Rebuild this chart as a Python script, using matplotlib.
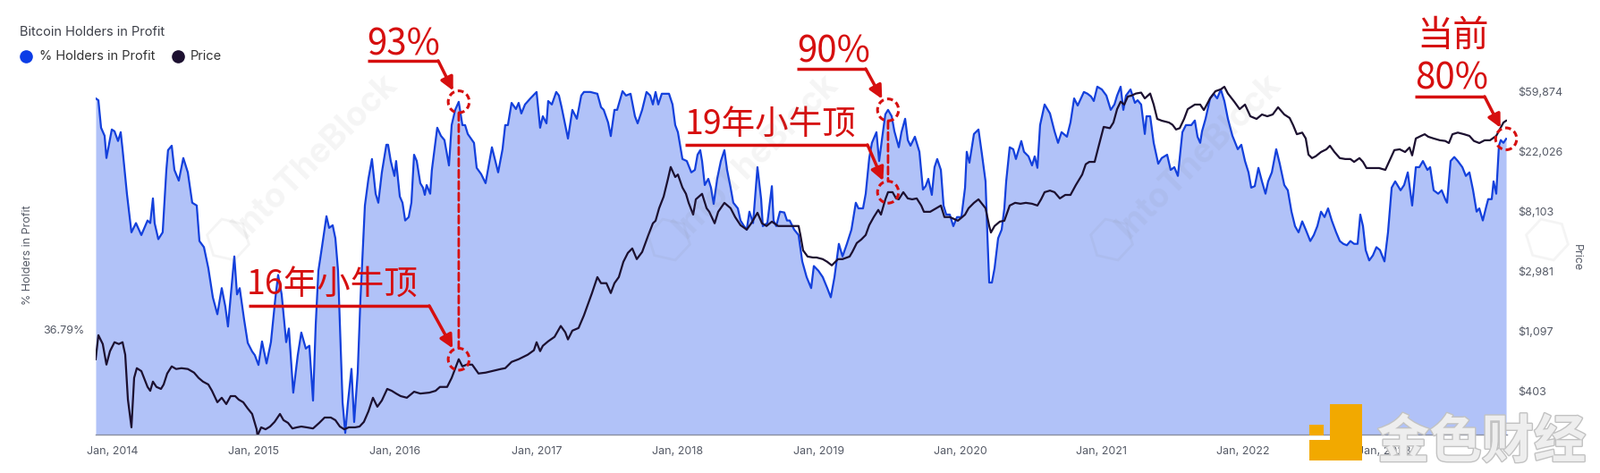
import numpy as np
import matplotlib
matplotlib.use("Agg")
import matplotlib.pyplot as plt
import matplotlib.transforms as mtransforms
import matplotlib.patheffects as pe
from matplotlib.patches import Ellipse, ConnectionPatch, Rectangle, RegularPolygon
from matplotlib.lines import Line2D
from matplotlib.ticker import NullLocator

plt.rcParams['font.family'] = ['Inter', 'DejaVu Sans']

# ---- data: % of holders in profit (decimal year, percent) ----
holders_t = [
    2013.880, 2013.899, 2013.918, 2013.943, 2013.956, 2013.994, 2014.013, 2014.038, 2014.057, 2014.070,
    2014.101, 2014.133, 2014.165, 2014.203, 2014.247, 2014.266, 2014.285, 2014.297, 2014.323, 2014.354,
    2014.380, 2014.392, 2014.418, 2014.437, 2014.468, 2014.500, 2014.532, 2014.563, 2014.595, 2014.614,
    2014.646, 2014.677, 2014.709, 2014.741, 2014.772, 2014.797, 2014.816, 2014.835, 2014.861, 2014.880,
    2014.899, 2014.930, 2014.956, 2014.987, 2015.006, 2015.032, 2015.057, 2015.089, 2015.120, 2015.152,
    2015.171, 2015.196, 2015.228, 2015.247, 2015.278, 2015.310, 2015.335, 2015.367, 2015.392, 2015.418,
    2015.437, 2015.456, 2015.481, 2015.513, 2015.532, 2015.557, 2015.576, 2015.595, 2015.627, 2015.646,
    2015.665, 2015.690, 2015.709, 2015.734, 2015.753, 2015.785, 2015.810, 2015.835, 2015.861, 2015.880,
    2015.905, 2015.937, 2015.949, 2015.968, 2015.994, 2016.006, 2016.032, 2016.051, 2016.070, 2016.095,
    2016.114, 2016.133, 2016.152, 2016.177, 2016.196, 2016.209, 2016.222, 2016.247, 2016.259, 2016.297,
    2016.323, 2016.348, 2016.380, 2016.399, 2016.424, 2016.449, 2016.475, 2016.494, 2016.513, 2016.557,
    2016.576, 2016.608, 2016.639, 2016.684, 2016.728, 2016.759, 2016.778, 2016.797, 2016.823, 2016.854,
    2016.873, 2016.892, 2016.918, 2016.956, 2017.000, 2017.025, 2017.044, 2017.070, 2017.082, 2017.108,
    2017.139, 2017.158, 2017.177, 2017.222, 2017.253, 2017.285, 2017.316, 2017.335, 2017.380, 2017.430,
    2017.456, 2017.475, 2017.506, 2017.525, 2017.551, 2017.570, 2017.608, 2017.633, 2017.665, 2017.696,
    2017.715, 2017.747, 2017.778, 2017.804, 2017.823, 2017.842, 2017.861, 2017.886, 2017.937, 2017.962,
    2017.981, 2018.000, 2018.032, 2018.063, 2018.095, 2018.120, 2018.139, 2018.158, 2018.171, 2018.190,
    2018.215, 2018.234, 2018.253, 2018.278, 2018.304, 2018.329, 2018.348, 2018.373, 2018.392, 2018.424,
    2018.443, 2018.468, 2018.487, 2018.506, 2018.532, 2018.563, 2018.589, 2018.601, 2018.633, 2018.665,
    2018.677, 2018.696, 2018.722, 2018.753, 2018.772, 2018.791, 2018.823, 2018.854, 2018.880, 2018.911,
    2018.943, 2018.962, 2018.994, 2019.025, 2019.057, 2019.082, 2019.108, 2019.139, 2019.165, 2019.196,
    2019.228, 2019.259, 2019.278, 2019.310, 2019.329, 2019.354, 2019.373, 2019.405, 2019.424, 2019.449,
    2019.468, 2019.487, 2019.513, 2019.532, 2019.563, 2019.582, 2019.608, 2019.627, 2019.646, 2019.677,
    2019.709, 2019.734, 2019.753, 2019.772, 2019.797, 2019.816, 2019.835, 2019.861, 2019.880, 2019.899,
    2019.924, 2019.949, 2019.975, 2020.006, 2020.032, 2020.044, 2020.063, 2020.095, 2020.127, 2020.152,
    2020.177, 2020.190, 2020.203, 2020.222, 2020.241, 2020.266, 2020.291, 2020.310, 2020.323, 2020.348,
    2020.373, 2020.392, 2020.430, 2020.449, 2020.481, 2020.506, 2020.525, 2020.544, 2020.563, 2020.595,
    2020.633, 2020.665, 2020.690, 2020.715, 2020.753, 2020.778, 2020.804, 2020.829, 2020.873, 2020.899,
    2020.924, 2020.943, 2020.968, 2021.000, 2021.032, 2021.063, 2021.089, 2021.108, 2021.133, 2021.152,
    2021.171, 2021.203, 2021.234, 2021.253, 2021.278, 2021.304, 2021.316, 2021.342, 2021.367, 2021.399,
    2021.424, 2021.462, 2021.487, 2021.513, 2021.538, 2021.570, 2021.595, 2021.633, 2021.658, 2021.677,
    2021.696, 2021.709, 2021.734, 2021.766, 2021.791, 2021.816, 2021.842, 2021.867, 2021.892, 2021.924,
    2021.962, 2021.987, 2022.013, 2022.038, 2022.057, 2022.082, 2022.108, 2022.133, 2022.158, 2022.177,
    2022.203, 2022.234, 2022.259, 2022.291, 2022.316, 2022.342, 2022.367, 2022.392, 2022.418, 2022.443,
    2022.475, 2022.500, 2022.525, 2022.551, 2022.576, 2022.601, 2022.627, 2022.658, 2022.684, 2022.709,
    2022.734, 2022.759, 2022.785, 2022.810, 2022.829, 2022.848, 2022.867, 2022.892, 2022.918, 2022.943,
    2022.968, 2023.000, 2023.025, 2023.051, 2023.076, 2023.114, 2023.139, 2023.165, 2023.196, 2023.222,
    2023.247, 2023.272, 2023.304, 2023.323, 2023.348, 2023.380, 2023.405, 2023.430, 2023.443, 2023.468,
    2023.494, 2023.519, 2023.551, 2023.576, 2023.601, 2023.627, 2023.652, 2023.671, 2023.696, 2023.722,
    2023.734, 2023.759, 2023.772, 2023.791, 2023.810, 2023.823, 2023.842, 2023.861,
]
holders_pct = [
    94.3, 93.6, 83.7, 81.0, 74.0, 83.1, 82.5, 79.3, 82.2, 76.7,
    64.0, 54.7, 56.8, 54.1, 57.4, 56.8, 62.8, 56.8, 53.2, 54.7,
    70.5, 76.4, 77.8, 70.5, 67.5, 74.0, 69.8, 61.7, 61.0, 52.8,
    51.5, 47.3, 42.0, 39.2, 43.6, 40.5, 37.3, 42.0, 49.6, 42.5,
    43.6, 38.4, 34.9, 33.7, 33.2, 31.9, 35.1, 32.1, 35.0, 42.0,
    46.0, 42.5, 35.0, 37.0, 28.5, 33.2, 36.4, 34.1, 34.5, 27.6,
    37.6, 46.8, 51.5, 58.4, 55.7, 56.3, 53.4, 46.8, 27.4, 24.2,
    27.4, 31.4, 25.3, 30.9, 41.4, 61.0, 68.0, 73.7, 64.0, 61.7,
    69.8, 78.1, 78.1, 73.1, 68.8, 73.1, 63.3, 61.7, 57.4, 58.2,
    61.7, 75.0, 73.1, 66.8, 65.6, 63.7, 66.3, 64.0, 70.5, 83.7,
    81.0, 79.6, 71.8, 84.6, 90.0, 93.0, 84.6, 84.6, 81.6, 78.7,
    71.1, 69.3, 66.8, 77.3, 69.8, 76.7, 84.6, 84.6, 92.6, 90.3,
    92.6, 88.7, 92.0, 94.3, 96.8, 83.7, 87.7, 85.2, 93.3, 92.0,
    96.8, 95.4, 91.0, 80.1, 90.0, 86.8, 95.4, 96.8, 96.8, 96.1,
    91.0, 90.0, 85.5, 80.9, 90.0, 90.0, 97.1, 95.4, 96.1, 87.7,
    85.2, 90.0, 96.8, 95.4, 92.0, 96.8, 92.0, 96.1, 96.1, 92.0,
    84.6, 82.2, 73.7, 73.1, 69.8, 70.5, 75.0, 76.4, 73.1, 66.3,
    68.0, 65.6, 61.4, 68.0, 73.1, 76.4, 70.5, 65.6, 61.7, 60.3,
    57.4, 56.1, 55.3, 59.5, 56.8, 71.3, 62.6, 56.1, 56.8, 66.0,
    57.4, 56.1, 59.5, 59.3, 57.4, 57.4, 55.3, 54.1, 48.6, 45.6,
    43.6, 47.7, 46.8, 45.6, 43.6, 42.0, 45.6, 52.2, 49.6, 52.2,
    55.3, 61.7, 60.3, 60.3, 64.0, 74.0, 78.7, 82.2, 73.1, 81.6,
    88.4, 90.0, 87.7, 82.5, 77.3, 82.2, 86.8, 79.6, 77.8, 80.7,
    75.9, 65.1, 66.0, 68.0, 63.7, 71.3, 73.7, 70.5, 61.0, 58.8,
    58.8, 56.1, 58.2, 58.2, 65.6, 75.9, 72.6, 81.6, 83.1, 75.0,
    67.3, 54.1, 44.6, 44.6, 47.3, 53.4, 55.3, 60.3, 67.3, 77.3,
    76.7, 73.7, 79.3, 75.9, 74.5, 71.8, 74.5, 71.1, 84.6, 92.0,
    88.7, 82.5, 78.7, 82.2, 80.7, 85.5, 94.3, 91.6, 96.8, 96.1,
    95.0, 93.3, 98.9, 97.8, 95.4, 90.0, 92.0, 95.4, 98.9, 90.0,
    95.4, 97.8, 92.6, 93.6, 92.0, 81.6, 87.7, 87.7, 78.7, 72.3,
    74.0, 75.0, 70.5, 71.3, 68.8, 82.2, 84.6, 84.6, 86.2, 80.7,
    78.7, 82.5, 86.8, 94.3, 96.1, 94.3, 97.8, 93.3, 86.8, 81.0,
    76.7, 78.1, 73.1, 69.8, 65.6, 66.0, 71.1, 67.3, 64.0, 67.3,
    69.8, 76.7, 72.3, 66.3, 64.9, 59.5, 56.1, 54.7, 57.2, 55.3,
    52.8, 54.1, 56.1, 59.5, 58.2, 60.3, 57.4, 54.7, 52.8, 52.2,
    51.9, 52.8, 52.2, 52.2, 58.8, 56.1, 50.9, 48.8, 49.8, 51.5,
    50.9, 48.6, 54.7, 65.6, 67.3, 64.9, 66.3, 69.8, 61.0, 71.3,
    71.3, 73.1, 70.5, 71.3, 64.9, 64.0, 64.9, 62.6, 61.7, 73.1,
    74.3, 73.1, 71.3, 68.8, 69.8, 64.9, 59.5, 60.3, 57.4, 61.0,
    62.6, 62.6, 67.3, 64.0, 77.8, 79.6, 78.7, 80.0,
]

# ---- data: BTC price (decimal year, USD) ----
price_t = [
    2013.880, 2013.899, 2013.930, 2013.956, 2013.981, 2014.013, 2014.044, 2014.070, 2014.089, 2014.108,
    2014.133, 2014.152, 2014.171, 2014.203, 2014.247, 2014.266, 2014.285, 2014.310, 2014.342, 2014.361,
    2014.386, 2014.418, 2014.449, 2014.487, 2014.532, 2014.576, 2014.608, 2014.639, 2014.677, 2014.703,
    2014.741, 2014.772, 2014.804, 2014.835, 2014.867, 2014.892, 2014.924, 2014.956, 2014.987, 2015.019,
    2015.025, 2015.051, 2015.082, 2015.114, 2015.146, 2015.184, 2015.209, 2015.241, 2015.272, 2015.304,
    2015.335, 2015.373, 2015.418, 2015.462, 2015.500, 2015.544, 2015.576, 2015.608, 2015.639, 2015.671,
    2015.715, 2015.747, 2015.778, 2015.810, 2015.842, 2015.873, 2015.905, 2015.943, 2015.975, 2016.006,
    2016.038, 2016.082, 2016.133, 2016.177, 2016.241, 2016.285, 2016.316, 2016.367, 2016.399, 2016.430,
    2016.449, 2016.475, 2016.506, 2016.544, 2016.589, 2016.639, 2016.684, 2016.747, 2016.778, 2016.823,
    2016.873, 2016.937, 2016.981, 2017.000, 2017.025, 2017.044, 2017.082, 2017.127, 2017.171, 2017.203,
    2017.222, 2017.253, 2017.297, 2017.335, 2017.392, 2017.430, 2017.456, 2017.494, 2017.525, 2017.551,
    2017.582, 2017.614, 2017.646, 2017.677, 2017.709, 2017.747, 2017.791, 2017.823, 2017.842, 2017.867,
    2017.899, 2017.930, 2017.949, 2017.981, 2018.000, 2018.032, 2018.057, 2018.076, 2018.108, 2018.127,
    2018.171, 2018.203, 2018.222, 2018.260, 2018.285, 2018.329, 2018.373, 2018.405, 2018.443, 2018.487,
    2018.519, 2018.563, 2018.595, 2018.627, 2018.665, 2018.709, 2018.772, 2018.816, 2018.854, 2018.867,
    2018.886, 2018.918, 2018.956, 2018.981, 2019.025, 2019.057, 2019.089, 2019.133, 2019.165, 2019.215,
    2019.234, 2019.266, 2019.297, 2019.329, 2019.354, 2019.386, 2019.418, 2019.437, 2019.468, 2019.487,
    2019.519, 2019.544, 2019.563, 2019.595, 2019.627, 2019.658, 2019.690, 2019.722, 2019.741, 2019.785,
    2019.829, 2019.861, 2019.886, 2019.924, 2019.981, 2020.032, 2020.057, 2020.095, 2020.127, 2020.152,
    2020.177, 2020.203, 2020.215, 2020.241, 2020.278, 2020.310, 2020.348, 2020.386, 2020.424, 2020.462,
    2020.506, 2020.544, 2020.570, 2020.595, 2020.633, 2020.665, 2020.703, 2020.741, 2020.778, 2020.816,
    2020.861, 2020.886, 2020.911, 2020.949, 2020.975, 2021.013, 2021.057, 2021.082, 2021.108, 2021.133,
    2021.158, 2021.184, 2021.209, 2021.241, 2021.278, 2021.304, 2021.342, 2021.367, 2021.392, 2021.424,
    2021.475, 2021.500, 2021.525, 2021.551, 2021.582, 2021.608, 2021.658, 2021.696, 2021.722, 2021.766,
    2021.804, 2021.842, 2021.867, 2021.892, 2021.937, 2021.975, 2022.013, 2022.051, 2022.095, 2022.133,
    2022.171, 2022.209, 2022.247, 2022.291, 2022.329, 2022.354, 2022.380, 2022.418, 2022.443, 2022.462,
    2022.487, 2022.513, 2022.551, 2022.589, 2022.614, 2022.646, 2022.684, 2022.722, 2022.759, 2022.785,
    2022.823, 2022.848, 2022.873, 2022.911, 2022.962, 2023.006, 2023.032, 2023.070, 2023.108, 2023.146,
    2023.177, 2023.196, 2023.222, 2023.259, 2023.285, 2023.310, 2023.348, 2023.392, 2023.430, 2023.456,
    2023.481, 2023.519, 2023.563, 2023.601, 2023.633, 2023.671, 2023.709, 2023.747, 2023.791, 2023.816,
    2023.842, 2023.861,
]
price_usd = [
    683, 1020, 880, 624, 781, 907, 880, 907, 736, 348,
    219, 500, 588, 560, 430, 403, 470, 430, 416, 448,
    538, 606, 580, 588, 580, 546, 500, 470, 448, 403,
    333, 359, 323, 369, 369, 348, 333, 300, 274, 212,
    191, 219, 212, 222, 240, 274, 247, 236, 215, 219,
    222, 219, 215, 236, 258, 258, 247, 222, 212, 219,
    219, 222, 240, 286, 359, 309, 343, 416, 403, 385,
    369, 359, 397, 385, 391, 403, 430, 430, 500, 606,
    683, 606, 624, 624, 538, 546, 560, 580, 588, 653,
    683, 736, 793, 907, 781, 854, 921, 992, 1190, 1070,
    950, 1100, 1150, 1420, 2060, 2690, 2430, 2430, 2060, 2430,
    2690, 3470, 4030, 4340, 3630, 4090, 5430, 6600, 6890, 8490,
    10300, 13900, 16900, 14300, 14900, 12000, 10800, 9290, 7630, 9850,
    10800, 8490, 8000, 6600, 8000, 9290, 8490, 7330, 6400, 5940,
    6600, 7870, 6600, 6310, 6790, 6310, 6310, 6310, 6310, 5430,
    4200, 3790, 3730, 3730, 3630, 3470, 3270, 3630, 3630, 3790,
    4090, 4750, 5030, 5430, 6400, 7330, 8260, 7630, 9850, 11100,
    11100, 10000, 9850, 11100, 10000, 9850, 10000, 8880, 8000, 8000,
    8490, 8880, 7330, 7330, 6890, 7630, 8490, 9290, 9850, 9150,
    8490, 6310, 5660, 6310, 6790, 6890, 8880, 9290, 9150, 9290,
    9150, 8880, 9850, 11100, 11400, 11100, 10000, 10600, 10600, 12500,
    14900, 17700, 18400, 18400, 23400, 33000, 32300, 35500, 44400, 50300,
    47900, 54800, 55600, 57600, 58500, 53100, 57600, 47900, 37700, 36600,
    35500, 34200, 31600, 32300, 37700, 44400, 47900, 47900, 43700, 53100,
    59900, 61800, 64500, 57600, 50300, 44400, 47900, 39400, 37700, 40600,
    39400, 40600, 45800, 40600, 38300, 33900, 29200, 30000, 27200, 20800,
    19600, 20200, 21700, 22700, 24100, 21700, 19600, 19300, 19300, 18400,
    19600, 18400, 16600, 16600, 16600, 16100, 18400, 22400, 22700, 21700,
    23400, 20500, 27200, 28400, 29200, 28000, 27200, 26400, 26100, 25200,
    29200, 30000, 29200, 28400, 26100, 25200, 26400, 26400, 28400, 31700,
    35500, 36600,
]

year_ticks = list(range(2014, 2024))
pct_ticks = [100 * np.exp(-1)]
price_ticks = list(np.exp(np.arange(6, 12)))

W, H = 1790, 529
RED = '#d60f0f'
BLUE = '#1340dc'
DARK = '#1c1030'
FILL = '#b1c2f8'
GRAY = '#555a66'
CJK = ['Noto Sans CJK SC', 'DejaVu Sans']


def fx(x):
    return x / W


def fy(y):
    return 1 - y / H


fig = plt.figure(figsize=(W / 100, H / 100), dpi=100)
ax = fig.add_axes([fx(107), fy(486), (1685 - 107) / W, (486 - 89) / H])
ax2 = ax.twinx()

# percent series with fill
ax.set_yscale('log')
ax.set_ylim(24.04, 101.8)
ax.fill_between(holders_t, holders_pct, 24.04, color=FILL, lw=0, zorder=1)
ax.plot(holders_t, holders_pct, color=BLUE, lw=1.6, zorder=2)
ax.set_xlim(2013.880, 2023.867)

# price series
ax2.set_yscale('log')
ax2.set_ylim(194.2, 72700)
ax2.plot(price_t, price_usd, color=DARK, lw=1.6, zorder=3)

# axes styling
for s in ['top', 'left', 'right']:
    ax.spines[s].set_visible(False)
    ax2.spines[s].set_visible(False)
ax2.spines['bottom'].set_visible(False)
ax.spines['bottom'].set_color('#8a8fa0')
ax.spines['bottom'].set_linewidth(1.0)

ax.set_xticks(year_ticks)
ax.set_xticklabels([f"Jan, {y}" for y in year_ticks])
ax.tick_params(axis='x', length=0, pad=9, labelsize=9, labelcolor=GRAY)

ax.yaxis.set_minor_locator(NullLocator())
ax.set_yticks(pct_ticks)
ax.set_yticklabels([f"{v:.2f}%" for v in pct_ticks])
ax.tick_params(axis='y', length=0, pad=9, labelsize=9, labelcolor=GRAY)

ax2.yaxis.set_minor_locator(NullLocator())
ax2.set_yticks(price_ticks)
ax2.set_yticklabels([f"${v:,.0f}" for v in price_ticks])
ax2.tick_params(axis='y', length=0, pad=9, labelsize=9, labelcolor=GRAY)

fig.text(fx(31), fy(285), "% Holders in Profit", rotation=90, ha='center', va='center',
         fontsize=9, color=GRAY)
fig.text(fx(1763), fy(288), "Price", rotation=270, ha='center', va='center',
         fontsize=9, color=GRAY)

# title + legend
fig.text(fx(22), fy(36), "Bitcoin Holders in Profit", ha='left', va='center',
         fontsize=10.5, color='#3c3f48')
fig.add_artist(Line2D([fx(29)], [fy(63)], marker='o', markersize=9.5, color='#0c3ce6',
                      transform=fig.transFigure))
fig.text(fx(44), fy(63), "% Holders in Profit", ha='left', va='center', fontsize=10.5, color='#333')
fig.add_artist(Line2D([fx(199)], [fy(63)], marker='o', markersize=9.5, color=DARK,
                      transform=fig.transFigure))
fig.text(fx(213), fy(63), "Price", ha='left', va='center', fontsize=10.5, color='#333')

# watermarks
for cx in [352, 845, 1340]:
    fig.text(fx(cx), fy(175), "IntoTheBlock", rotation=45, ha='center', va='center',
             fontsize=27, fontweight='bold', color='#7a7a7a', alpha=0.08, zorder=5)
for cx in [255, 748, 1243, 1730]:
    fig.add_artist(RegularPolygon((cx / 100, (H - 268) / 100), 6, radius=0.24, orientation=0.3,
                                  transform=fig.dpi_scale_trans, fill=False, ec='#7a7a7a',
                                  lw=2, alpha=0.08, zorder=5))


# annotations
def circle(axis, t, v):
    tr = fig.dpi_scale_trans + mtransforms.ScaledTranslation(t, v, axis.transData)
    fig.add_artist(Ellipse((0, 0), 0.235, 0.245, transform=tr, fill=False, ec=RED,
                           lw=2.2, ls=(0, (2.2, 1.3)), zorder=10))


def pointer(axis, t, v, x0, x1, y):
    fig.add_artist(Line2D([fx(x0), fx(x1)], [fy(y), fy(y)], transform=fig.transFigure,
                          color=RED, lw=2.5, solid_capstyle='butt', zorder=10))
    axis.annotate("", xy=(t, v), xycoords='data', xytext=(x1, H - y), textcoords='figure pixels',
                  arrowprops=dict(arrowstyle='-|>', color=RED, lw=2.5, mutation_scale=22,
                                  shrinkA=0, shrinkB=10), zorder=10, annotation_clip=False)


def drop(t, pct, usd):
    fig.add_artist(ConnectionPatch(xyA=(t, pct), coordsA=ax.transData, xyB=(t, usd),
                                   coordsB=ax2.transData, color=RED, lw=2,
                                   ls=(0, (3, 1.6)), shrinkA=9, shrinkB=9, zorder=10))


fig.text(fx(410), fy(62), "93%", fontsize=29, color=RED, family=CJK, va='baseline')
pointer(ax, 2016.449, 93.0, 411, 490, 68)
circle(ax, 2016.449, 93.0)
circle(ax2, 2016.449, 683)
drop(2016.449, 93.0, 683)
fig.text(fx(276), fy(329), "16年小牛顶", fontsize=27, color=RED, family=CJK, va='baseline')
pointer(ax2, 2016.449, 683, 278, 480, 342)

fig.text(fx(891), fy(70), "90%", fontsize=29, color=RED, family=CJK, va='baseline')
pointer(ax, 2019.487, 90.0, 891, 968, 77)
circle(ax, 2019.487, 90.0)
circle(ax2, 2019.487, 11100)
drop(2019.487, 90.0, 11100)
fig.text(fx(766), fy(150), "19年小牛顶", fontsize=27, color=RED, family=CJK, va='baseline')
pointer(ax2, 2019.487, 11100, 766, 970, 162)

fig.text(fx(1584), fy(52), "当前", fontsize=29, color=RED, family=CJK, va='baseline')
fig.text(fx(1582), fy(100), "80%", fontsize=29, color=RED, family=CJK, va='baseline')
pointer(ax, 2023.861, 80.0, 1582, 1660, 108)
circle(ax, 2023.861, 80.0)

# source logo at bottom right
for x0, y0, x1, y1 in [(1487, 452, 1523, 515), (1464, 492, 1523, 515), (1464, 475, 1480, 487)]:
    fig.add_artist(Rectangle((fx(x0), fy(y1)), (x1 - x0) / W, (y1 - y0) / H,
                             transform=fig.transFigure, color='#f2a900', lw=0, zorder=8))
fig.text(fx(1540), fy(512), "金色财经", fontsize=42, fontweight='bold', color='#eeeeee',
         family=CJK, va='baseline', zorder=8,
         path_effects=[pe.withStroke(linewidth=2, foreground='#c2c2c2')])

fig.savefig("out.png", dpi=100)
